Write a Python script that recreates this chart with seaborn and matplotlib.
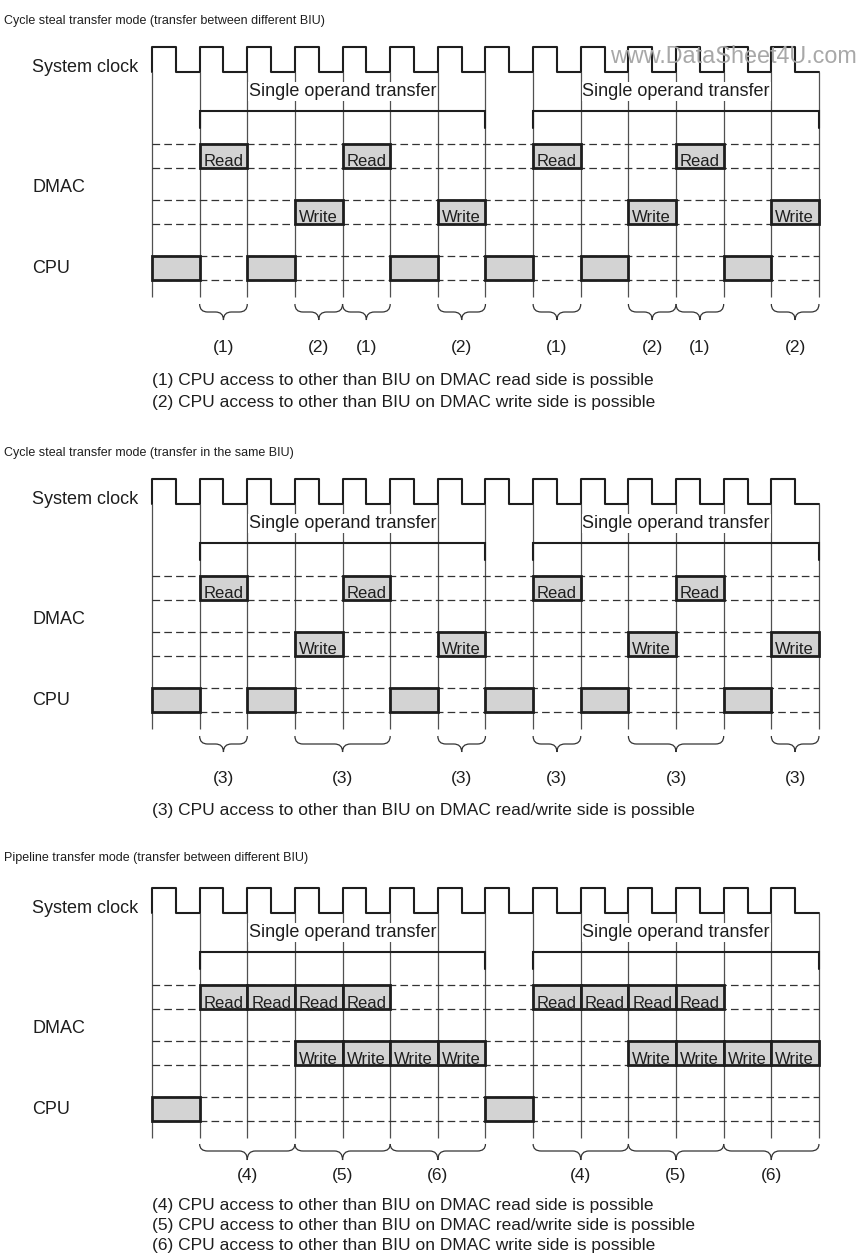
import numpy as np
import pandas as pd
import seaborn as sns
import matplotlib.pyplot as plt
from matplotlib import font_manager
from matplotlib.path import Path
from matplotlib.patches import PathPatch

# ---- data -------------------------------------------------------------
n_cycles = 14
transfer_spans = [(1, 7), (8, 14)]
transfer_label = "Single operand transfer"
row_names = ["System clock", "DMAC", "CPU"]

titles = [
    "Cycle steal transfer mode (transfer between different BIU)",
    "Cycle steal transfer mode (transfer in the same BIU)",
    "Pipeline transfer mode (transfer between different BIU)",
]

read_1 = [1, 4, 8, 11]
write_1 = [3, 6, 10, 13]
cpu_1 = [0, 2, 5, 7, 9, 12]
braces_1 = [(1, 2, "(1)"), (3, 4, "(2)"), (4, 5, "(1)"), (6, 7, "(2)"),
            (8, 9, "(1)"), (10, 11, "(2)"), (11, 12, "(1)"), (13, 14, "(2)")]
notes_1 = ["(1) CPU access to other than BIU on DMAC read side is possible",
           "(2) CPU access to other than BIU on DMAC write side is possible"]

read_2 = [1, 4, 8, 11]
write_2 = [3, 6, 10, 13]
cpu_2 = [0, 2, 5, 7, 9, 12]
braces_2 = [(1, 2, "(3)"), (3, 5, "(3)"), (6, 7, "(3)"),
            (8, 9, "(3)"), (10, 12, "(3)"), (13, 14, "(3)")]
notes_2 = ["(3) CPU access to other than BIU on DMAC read/write side is possible"]

read_3 = [1, 2, 3, 4, 8, 9, 10, 11]
write_3 = [3, 4, 5, 6, 10, 11, 12, 13]
cpu_3 = [0, 7]
braces_3 = [(1, 3, "(4)"), (3, 5, "(5)"), (5, 7, "(6)"),
            (8, 10, "(4)"), (10, 12, "(5)"), (12, 14, "(6)")]
notes_3 = ["(4) CPU access to other than BIU on DMAC read side is possible",
           "(5) CPU access to other than BIU on DMAC read/write side is possible",
           "(6) CPU access to other than BIU on DMAC write side is possible"]

watermark = "www.DataSheet4U.com"

# ---- layout (pixels, y downwards) -------------------------------------
W, H = 863, 1257
x0_px, cyc_px = 152, 47.64
sections = [
    dict(top=47, title_dy=-23, lab_dy=305, note_dy=338, note_gap=22, brace=(257, 265, 273),
         read=read_1, write=write_1, cpu=cpu_1, braces=braces_1, notes=notes_1),
    dict(top=479, title_dy=-23, lab_dy=304, note_dy=336, note_gap=22, brace=(257, 265, 273),
         read=read_2, write=write_2, cpu=cpu_2, braces=braces_2, notes=notes_2),
    dict(top=888, title_dy=-27, lab_dy=292, note_dy=322, note_gap=20, brace=(256, 263, 272),
         read=read_3, write=write_3, cpu=cpu_3, braces=braces_3, notes=notes_3),
]

sns.set_theme(style="white")
plt.rcParams["font.family"] = ["Liberation Sans", "DejaVu Sans"]
plt.rcParams["lines.scale_dashes"] = False

# titles in the original are set in a condensed face
installed = {f.name for f in font_manager.fontManager.ttflist}
if "Liberation Sans Narrow" in installed:
    title_font, title_size = "Liberation Sans Narrow", 11
else:
    title_font, title_size = "Liberation Sans", 9.0

fig = plt.figure(figsize=(W / 100, H / 100), dpi=100)
ax = fig.add_axes([0, 0, 1, 1])
ax.set_xlim(-x0_px / cyc_px, (W - x0_px) / cyc_px)
ax.set_ylim(H, 0)
ax.axis("off")

ink = "#1e1e1e"
box_fill = "#d3d3d3"
px = 1.0 / cyc_px  # one pixel in cycle units
left_x = (32 - x0_px) / cyc_px


def brace(a, b, yt, yh, yp):
    r = 8 * px
    m = (a + b) / 2
    verts = [(a, yt), (a, yh), (a + r, yh),
             (m - r, yh), (m, yh), (m, yp),
             (m, yh), (m + r, yh),
             (b - r, yh), (b, yh), (b, yt)]
    codes = [Path.MOVETO, Path.CURVE3, Path.CURVE3,
             Path.LINETO, Path.CURVE3, Path.CURVE3,
             Path.CURVE3, Path.CURVE3,
             Path.LINETO, Path.CURVE3, Path.CURVE3]
    ax.add_patch(PathPatch(Path(verts, codes), fill=False, lw=0.9, ec="#333333"))


for i, s in enumerate(sections):
    y0 = s["top"]
    hi, lo = y0, y0 + 25

    ax.text(-x0_px / cyc_px + 4 * px, y0 + s["title_dy"], titles[i],
            family=title_font, fontsize=title_size,
            color=ink, va="baseline", ha="left")

    # clock waveform
    xs = [0.0]
    ys = [lo]
    for k in range(n_cycles):
        xs += [k, k + 0.5]
        ys += [hi, lo]
    xs.append(n_cycles)
    ys.append(lo)
    clk = pd.DataFrame({"t": xs, "level": ys})
    sns.lineplot(data=clk, x="t", y="level", ax=ax, sort=False, estimator=None,
                 drawstyle="steps-post", color=ink, lw=1.5, zorder=4)

    # cycle boundaries
    ax.vlines(np.arange(n_cycles + 1), lo, y0 + 250, color="#505050", lw=0.9, zorder=1)

    # dashed bus rows
    rows = {"read": y0 + 97, "write": y0 + 153, "cpu": y0 + 209}
    rh = 24
    for ry in rows.values():
        ax.hlines([ry, ry + rh], 0, n_cycles, color="#333333", lw=0.9,
                  linestyles=(0, (5.5, 3)), zorder=1)

    for key, txt in [("read", "Read"), ("write", "Write"), ("cpu", "")]:
        starts = s[key]
        ax.bar(starts, rh, bottom=rows[key], width=1, align="edge", color=box_fill,
               edgecolor=ink, lw=2.0, zorder=3)
        if txt:
            for st in starts:
                ax.text(st + 4 * px, rows[key] + rh - 1.5, txt, fontsize=12,
                        color=ink, va="baseline", ha="left", zorder=5)

    # row labels
    ax.text(left_x, lo, row_names[0], fontsize=13, color=ink, va="baseline")
    ax.text(left_x, y0 + 145, row_names[1], fontsize=13, color=ink, va="baseline")
    ax.text(left_x, y0 + 226, row_names[2], fontsize=13, color=ink, va="baseline")

    # single operand transfer brackets
    for a, b in transfer_spans:
        ax.plot([a, a, b, b], [y0 + 81, y0 + 64, y0 + 64, y0 + 81], color=ink,
                lw=1.5, solid_joinstyle="miter", zorder=4)
        ax.text((a + b) / 2, y0 + 49, transfer_label, fontsize=13, color=ink,
                ha="center", va="baseline", zorder=5,
                bbox=dict(facecolor="white", edgecolor="none", pad=0.5))

    # braces + labels
    yt, yh, yp = s["brace"]
    for a, b, lab in s["braces"]:
        brace(a, b, y0 + yt, y0 + yh, y0 + yp)
        ax.text((a + b) / 2, y0 + s["lab_dy"], lab, fontsize=12.5, color=ink,
                ha="center", va="baseline")

    for j, note in enumerate(s["notes"]):
        ax.text(0, y0 + s["note_dy"] + j * s["note_gap"], note, fontsize=12.5,
                color=ink, ha="left", va="baseline")

ax.text((610 - x0_px) / cyc_px, 63, watermark, fontsize=16.8, color="#a8a8a8",
        ha="left", va="baseline", zorder=6)

fig.savefig("out.png", dpi=100)
